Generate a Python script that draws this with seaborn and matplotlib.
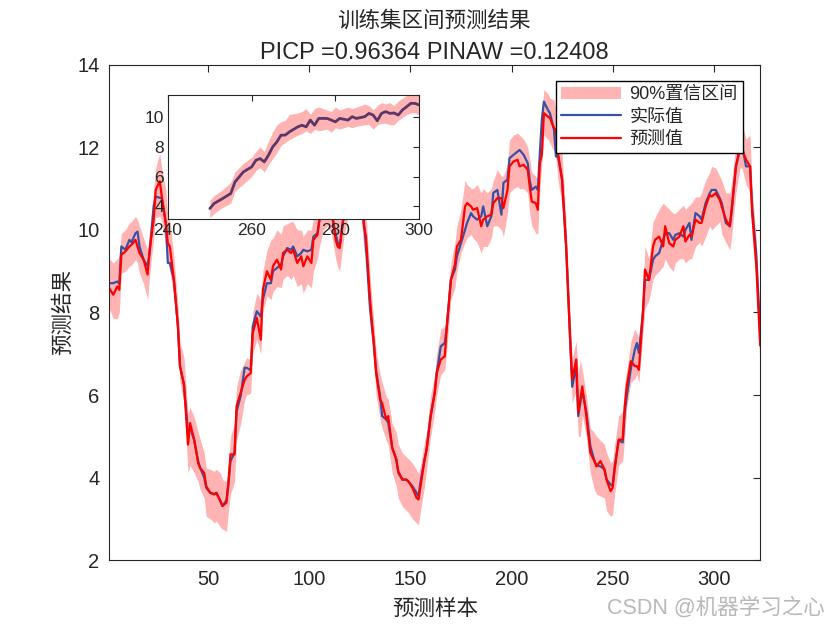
import numpy as np
import matplotlib
matplotlib.use('Agg')
import matplotlib.pyplot as plt
import seaborn as sns

# 训练集样本序号 / 实际值 / 预测值 / 90%区间下限 / 上限
sample = [1, 3, 5, 6, 7, 9, 11, 12, 14, 15,
          16, 18, 20, 21, 23, 24, 26, 27, 29, 30,
          31, 33, 35, 36, 38, 40, 41, 43, 45, 46,
          48, 49, 51, 53, 54, 56, 57, 59, 60, 61,
          63, 64, 66, 68, 69, 71, 72, 74, 76, 77,
          79, 81, 82, 84, 86, 87, 89, 91, 92, 94,
          96, 97, 99, 101, 102, 104, 105, 107, 109, 111,
          113, 114, 115, 117, 119, 121, 123, 125, 127, 128,
          130, 132, 133, 135, 136, 138, 139, 141, 143, 144,
          146, 148, 149, 151, 153, 154, 155, 157, 158, 160,
          162, 163, 165, 167, 168, 170, 172, 173, 175, 177,
          178, 180, 181, 183, 185, 186, 188, 190, 191, 193,
          195, 196, 198, 199, 201, 203, 204, 206, 208, 209,
          210, 212, 213, 214, 215, 216, 218, 219, 221, 222,
          223, 225, 227, 228, 229, 230, 232, 233, 234, 235,
          237, 239, 241, 242, 244, 246, 247, 249, 250, 251,
          253, 255, 256, 257, 259, 261, 262, 263, 265, 266,
          268, 270, 271, 273, 275, 276, 278, 280, 281, 283,
          285, 286, 288, 289, 291, 293, 294, 296, 298, 299,
          301, 303, 304, 306, 308, 309, 311, 313, 314, 316,
          318, 319, 321, 323]
actual = [8.71, 8.71, 8.75, 8.70, 9.60, 9.52, 9.76, 9.70, 9.92, 9.96,
          9.60, 9.28, 9.12, 9.44, 10.57, 10.81, 10.78, 10.77, 10.17, 9.20,
          9.20, 8.79, 7.66, 6.70, 6.25, 5.08, 5.20, 4.92, 4.40, 4.23,
          4.00, 3.75, 3.63, 3.60, 3.63, 3.43, 3.31, 3.45, 3.87, 4.40,
          4.60, 5.60, 5.97, 6.66, 6.66, 6.60, 7.66, 8.03, 7.90, 8.31,
          8.71, 8.71, 9.00, 9.08, 9.16, 9.36, 9.56, 9.52, 9.60, 9.36,
          9.44, 9.52, 9.48, 9.52, 9.84, 9.92, 10.25, 10.60, 10.80, 10.40,
          9.90, 9.70, 9.60, 10.30, 10.80, 11.20, 11.50, 11.30, 10.20, 9.60,
          8.10, 7.20, 6.60, 5.97, 5.49, 5.41, 5.33, 4.72, 4.44, 4.11,
          3.95, 3.95, 3.90, 3.79, 3.63, 3.55, 3.90, 4.44, 4.68, 5.49,
          6.05, 6.53, 7.18, 7.26, 7.66, 8.79, 9.04, 9.36, 9.68, 10.00,
          10.17, 10.41, 10.33, 10.25, 10.33, 10.57, 10.09, 10.33, 10.90, 10.97,
          10.37, 11.14, 11.22, 11.74, 11.82, 11.90, 11.94, 11.82, 11.62, 11.20,
          10.97, 11.05, 10.97, 11.86, 12.67, 13.11, 12.91, 12.83, 12.43, 11.78,
          11.78, 11.22, 9.60, 8.47, 7.34, 6.20, 6.70, 5.49, 5.80, 6.10,
          5.60, 4.76, 4.40, 4.30, 4.27, 4.20, 3.95, 3.83, 3.80, 4.27,
          4.90, 4.85, 5.57, 5.97, 6.63, 7.10, 7.26, 7.02, 7.99, 8.79,
          8.79, 9.28, 9.36, 9.44, 9.76, 9.92, 9.92, 9.76, 9.88, 9.92,
          9.84, 10.00, 10.17, 9.76, 10.41, 10.33, 10.25, 10.65, 10.89, 10.97,
          10.97, 10.77, 10.65, 10.17, 10.09, 10.49, 11.54, 11.95, 12.05, 11.54,
          11.54, 10.57, 9.44, 7.50]
predicted = [8.59, 8.43, 8.63, 8.55, 9.40, 9.48, 9.60, 9.64, 9.76, 9.60,
             9.44, 9.28, 8.92, 9.52, 10.25, 10.97, 11.18, 10.81, 10.17, 9.68,
             9.60, 8.79, 7.66, 6.70, 6.25, 4.80, 5.32, 4.92, 4.35, 4.23,
             4.11, 3.79, 3.63, 3.59, 3.63, 3.43, 3.31, 3.39, 3.87, 4.56,
             4.56, 5.73, 6.05, 6.37, 6.45, 6.53, 7.50, 7.87, 7.34, 8.55,
             9.00, 8.79, 9.12, 9.28, 9.04, 9.44, 9.52, 9.44, 9.52, 9.20,
             9.36, 9.12, 9.36, 9.20, 9.76, 9.88, 10.25, 10.70, 10.60, 10.50,
             9.76, 9.60, 9.56, 10.40, 10.90, 11.10, 11.60, 11.20, 10.09, 9.84,
             8.31, 7.18, 6.53, 5.89, 5.80, 5.41, 5.49, 4.72, 4.44, 4.15,
             3.95, 3.95, 3.91, 3.75, 3.51, 3.47, 3.79, 4.44, 4.68, 5.49,
             6.05, 6.53, 6.86, 6.94, 7.66, 8.79, 9.16, 9.60, 9.76, 10.57,
             10.65, 10.57, 10.49, 10.53, 10.09, 10.25, 10.33, 10.37, 10.65, 10.77,
             10.77, 10.53, 10.97, 11.54, 11.66, 11.70, 11.54, 11.58, 11.46, 11.05,
             10.69, 10.65, 10.49, 11.62, 11.82, 12.83, 12.75, 12.71, 12.47, 12.43,
             11.86, 11.22, 9.60, 8.47, 7.34, 6.37, 6.86, 5.57, 5.89, 6.21,
             5.49, 4.60, 4.40, 4.27, 4.40, 4.19, 3.95, 3.67, 3.75, 4.19,
             4.92, 4.92, 5.73, 6.21, 6.82, 6.70, 6.70, 6.61, 7.99, 9.04,
             8.79, 9.60, 9.76, 9.84, 9.60, 10.09, 9.68, 9.60, 9.76, 9.84,
             10.09, 9.72, 9.88, 9.84, 10.25, 10.17, 10.17, 10.57, 10.85, 10.81,
             10.89, 10.73, 10.57, 10.25, 10.09, 10.57, 11.54, 12.00, 11.95, 11.70,
             11.54, 10.41, 9.20, 7.20]
lower = [8.10, 7.85, 7.85, 8.00, 8.96, 9.00, 9.12, 9.15, 9.28, 9.20,
         8.95, 8.70, 8.31, 8.90, 9.80, 10.30, 10.33, 10.20, 9.60, 9.20,
         9.00, 8.40, 7.20, 6.30, 5.80, 4.11, 4.30, 4.11, 3.90, 3.71,
         3.50, 3.06, 3.00, 2.90, 2.95, 2.80, 2.75, 2.70, 3.20, 3.60,
         3.90, 4.90, 5.30, 5.90, 6.00, 6.05, 7.00, 7.34, 7.00, 8.00,
         8.40, 8.31, 8.50, 8.63, 8.60, 8.80, 8.90, 8.80, 8.90, 8.63,
         8.70, 8.47, 8.70, 8.60, 9.00, 9.30, 9.60, 10.00, 10.10, 9.90,
         9.30, 9.10, 9.00, 9.80, 10.30, 10.60, 11.00, 10.70, 9.50, 9.30,
         7.70, 6.70, 6.00, 5.40, 5.20, 4.90, 4.80, 4.10, 3.80, 3.50,
         3.30, 3.20, 3.15, 3.00, 2.90, 2.86, 3.20, 3.80, 4.20, 5.00,
         5.60, 6.00, 6.50, 6.60, 7.10, 8.30, 8.60, 9.00, 9.44, 9.70,
         9.80, 9.90, 9.80, 9.70, 9.44, 9.60, 9.60, 9.80, 10.10, 10.10,
         10.00, 9.84, 10.40, 10.90, 11.00, 11.05, 11.00, 11.00, 10.90, 10.40,
         10.10, 9.92, 9.90, 11.00, 11.60, 12.30, 12.20, 12.10, 11.90, 11.70,
         11.20, 10.60, 9.10, 8.00, 6.90, 5.80, 6.10, 5.00, 5.00, 5.50,
         5.00, 4.10, 3.71, 3.60, 3.55, 3.50, 3.20, 3.06, 3.10, 3.60,
         4.30, 4.40, 5.00, 5.70, 6.30, 6.40, 6.50, 6.30, 7.50, 8.10,
         8.30, 8.80, 8.90, 9.00, 9.12, 9.30, 9.10, 9.00, 9.20, 9.30,
         9.30, 9.20, 9.30, 9.30, 9.60, 9.70, 9.60, 9.84, 10.10, 10.00,
         10.10, 10.20, 9.90, 9.70, 9.52, 9.90, 10.90, 11.50, 11.50, 11.10,
         10.90, 9.90, 8.70, 6.60]
upper = [9.30, 9.20, 9.30, 9.40, 9.92, 10.00, 10.17, 10.20, 10.33, 10.25,
         10.10, 9.80, 9.52, 10.00, 10.97, 11.50, 11.86, 11.50, 10.97, 10.30,
         10.20, 9.36, 8.20, 7.30, 6.90, 5.56, 5.70, 5.47, 5.10, 4.92,
         4.60, 4.23, 4.20, 4.15, 4.20, 4.11, 3.95, 3.90, 4.40, 5.00,
         5.30, 6.20, 6.60, 6.80, 6.90, 6.86, 8.00, 8.47, 8.30, 9.00,
         9.50, 9.76, 9.80, 10.00, 9.90, 10.10, 10.15, 10.20, 10.20, 10.00,
         10.00, 9.84, 10.00, 10.00, 10.30, 10.50, 10.80, 11.30, 11.30, 11.10,
         10.40, 10.30, 10.20, 11.00, 11.50, 11.80, 12.20, 11.90, 10.70, 10.40,
         8.90, 7.70, 7.10, 6.50, 6.30, 5.97, 5.90, 5.30, 5.10, 4.80,
         4.60, 4.50, 4.45, 4.35, 4.19, 4.10, 4.30, 4.90, 5.10, 6.00,
         6.50, 7.00, 7.60, 7.66, 8.10, 9.20, 9.70, 10.10, 10.50, 11.20,
         11.10, 11.00, 11.00, 11.10, 10.90, 11.00, 10.90, 11.00, 11.20, 11.46,
         11.30, 11.30, 11.60, 12.18, 12.30, 12.35, 12.30, 12.20, 12.00, 11.70,
         11.40, 11.30, 11.20, 12.20, 12.90, 13.40, 13.30, 13.20, 13.15, 12.90,
         12.40, 11.86, 10.20, 9.00, 7.90, 6.90, 7.30, 6.50, 6.86, 6.60,
         6.00, 5.20, 5.08, 5.00, 4.90, 4.80, 4.60, 4.36, 4.40, 4.80,
         5.50, 5.60, 6.30, 6.60, 7.30, 7.60, 7.50, 7.40, 8.50, 9.60,
         9.30, 10.20, 10.30, 10.50, 10.65, 10.60, 10.50, 10.40, 10.40, 10.50,
         10.60, 10.50, 10.60, 10.65, 10.80, 10.80, 10.90, 11.20, 11.40, 11.54,
         11.50, 11.30, 11.20, 10.90, 10.90, 11.20, 12.10, 12.70, 12.60, 12.20,
         12.30, 11.00, 9.80, 7.60]

# 局部放大图 (样本 250-300)
zoom_x = [250, 251, 253, 255, 256, 258, 260, 261, 262, 263,
          264, 265, 266, 267, 268, 269, 271, 272, 273, 274,
          275, 276, 278, 279, 280, 281, 283, 284, 285, 287,
          288, 289, 290, 291, 292, 293, 294, 295, 296, 297,
          298, 299, 300]
zoom_y = [3.83, 4.17, 4.50, 4.85, 5.63, 6.31, 6.65, 7.10, 7.21, 6.99,
          7.44, 8.00, 8.34, 8.80, 8.80, 9.02, 9.36, 9.47, 9.36, 9.82,
          9.47, 9.93, 9.93, 9.82, 9.70, 9.93, 9.82, 10.05, 9.93, 10.05,
          10.27, 10.16, 9.77, 10.27, 10.39, 10.27, 10.30, 10.16, 10.50, 10.72,
          10.95, 10.95, 10.84]
zoom_lo = [3.20, 3.50, 3.90, 4.20, 5.00, 5.50, 6.00, 6.40, 6.60, 6.30,
           6.80, 7.20, 7.60, 8.10, 8.30, 8.50, 8.80, 8.90, 9.10, 8.90,
           9.20, 9.10, 9.20, 9.00, 9.30, 9.20, 9.40, 9.30, 9.40, 9.50,
           9.50, 9.20, 9.50, 9.60, 9.60, 9.50, 9.50, 9.80, 10.00, 10.20,
           10.30, 10.30, 10.20]
zoom_hi = [4.40, 4.70, 5.10, 5.60, 6.30, 6.90, 7.30, 7.70, 8.00, 7.70,
           8.40, 9.00, 9.50, 9.70, 9.80, 10.20, 10.30, 10.40, 10.60, 10.20,
           10.60, 10.70, 10.50, 10.40, 10.70, 10.50, 10.70, 10.60, 10.70, 10.90,
           10.80, 10.50, 10.80, 11.00, 10.90, 11.00, 10.80, 11.10, 11.30, 11.50,
           11.60, 11.60, 11.50]

band_color = '#ffb3b3'
blue = '#3652a4'

sns.set_style('white')
plt.rcParams['font.family'] = ['Liberation Sans', 'Noto Sans CJK SC']
plt.rcParams['axes.unicode_minus'] = False

fig = plt.figure(figsize=(8.4, 6.3), dpi=100)
ax = fig.add_axes([0.13, 0.111, 0.775, 0.786])

ax.fill_between(sample, lower, upper, color=band_color, lw=0, label='90%置信区间')
sns.lineplot(x=sample, y=actual, color=blue, lw=1.6, label='实际值', ax=ax, estimator=None)
sns.lineplot(x=sample, y=predicted, color='red', lw=1.6, label='预测值', ax=ax, estimator=None)

ax.set_xlim(1, 323)
ax.set_ylim(2, 14)
ax.set_xticks([50, 100, 150, 200, 250, 300])
ax.set_yticks([2, 4, 6, 8, 10, 12, 14])
ax.tick_params(direction='in', top=True, right=True, labelsize=14.5, length=5, width=0.8, pad=7)
for s in ax.spines.values():
    s.set_linewidth(0.8)
    s.set_color('#262626')
ax.set_xlabel('预测样本', fontsize=15.5, labelpad=7)
ax.set_ylabel('预测结果', fontsize=15.5, labelpad=2)
ax.set_title('PICP =0.96364 PINAW =0.12408', fontsize=17, pad=4)
fig.text(0.517, 0.967, '训练集区间预测结果', fontsize=15.5, ha='center', va='center')

h, l = ax.get_legend_handles_labels()
order = {lab: hd for hd, lab in zip(h, l)}
labs = ['90%置信区间', '实际值', '预测值']
ax.legend([order[k] for k in labs], labs, loc='upper right', bbox_to_anchor=(0.974, 0.968),
          borderaxespad=0, fontsize=13, frameon=True, fancybox=False, edgecolor='black',
          framealpha=1, handlelength=3.3, labelspacing=0.3, borderpad=0.3, handletextpad=0.5)

# 局部放大
ax2 = fig.add_axes([0.2, 0.653, 0.299, 0.197])
ax2.fill_between(zoom_x, zoom_lo, zoom_hi, color=band_color, lw=0)
sns.lineplot(x=zoom_x, y=zoom_y, color='#5a3768', lw=2, ax=ax2, estimator=None)
ax2.set_xlim(240, 300)
ax2.set_ylim(3.15, 11.55)
ax2.set_xticks([240, 260, 280, 300])
ax2.set_yticks([4, 6, 8, 10])
ax2.tick_params(direction='in', top=True, right=True, labelsize=12.5, length=4, width=0.8, pad=3)
for s in ax2.spines.values():
    s.set_linewidth(0.8)
    s.set_color('#262626')
ax2.set_xlabel('')
ax2.set_ylabel('')

fig.text(0.982, 0.035, 'CSDN @机器学习之心', fontsize=15.5, color='#b8b8b8', ha='right', va='center')

plt.savefig('out.png', dpi=100)
